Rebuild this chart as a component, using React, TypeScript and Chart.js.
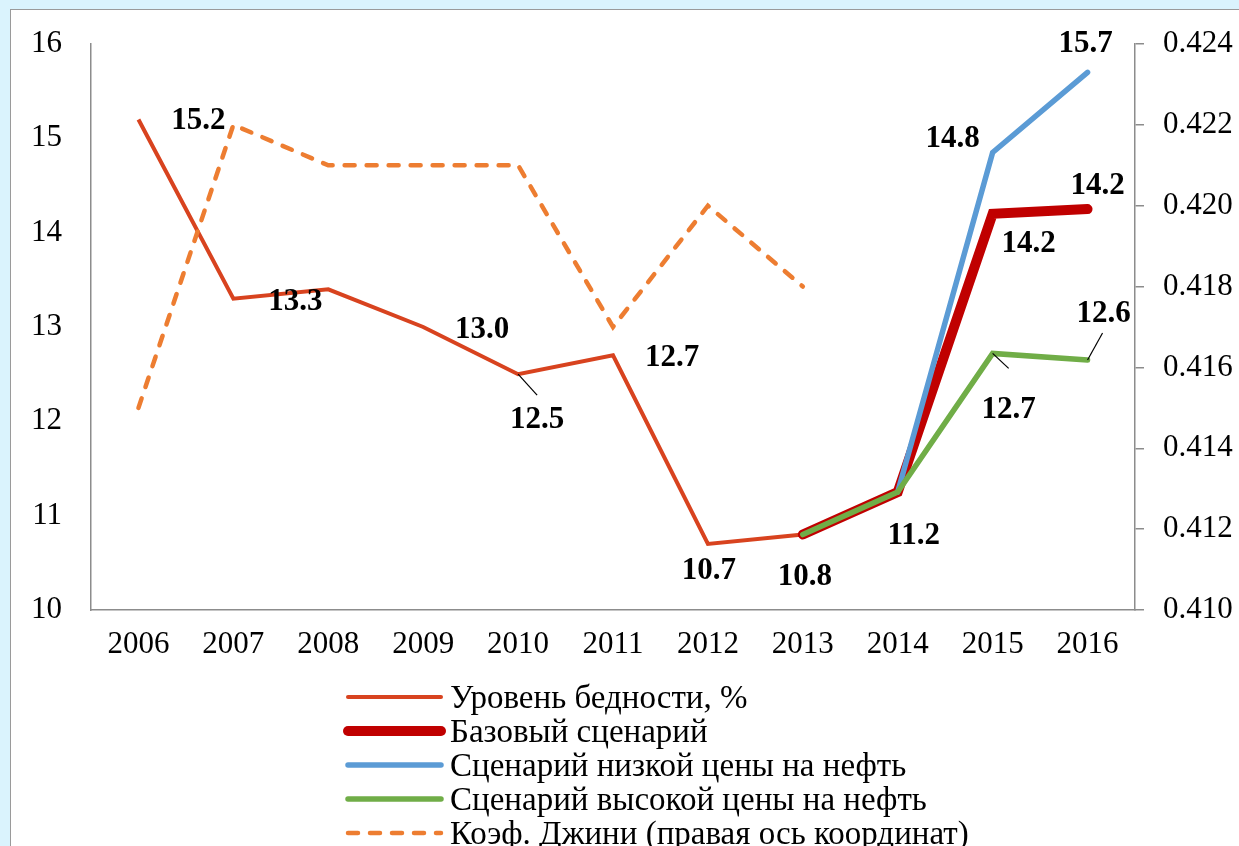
import React, { useEffect, useRef } from "react";
import { Chart, registerables } from "chart.js";

Chart.register(...registerables);

const years = ["2006", "2007", "2008", "2009", "2010", "2011", "2012", "2013", "2014", "2015", "2016"];
const poverty = [15.2, 13.3, 13.4, 13.0, 12.5, 12.7, 10.7, 10.8, 11.25, null, null];
const baseScenario = [null, null, null, null, null, null, null, 10.8, 11.25, 14.2, 14.25];
const lowOilScenario = [null, null, null, null, null, null, null, null, 11.25, 14.85, 15.7];
const highOilScenario = [null, null, null, null, null, null, null, 10.8, 11.25, 12.72, 12.65];
const gini = [0.415, 0.422, 0.421, 0.421, 0.421, 0.417, 0.42, 0.418, null, null, null];

const seriesNames = [
  "Уровень бедности, %",
  "Базовый сценарий",
  "Сценарий низкой цены на нефть",
  "Сценарий высокой цены на нефть",
  "Коэф. Джини (правая ось координат)",
];

const leftTicks = { min: 10, max: 16, step: 1 };
const rightTicks = { min: 0.41, max: 0.424, step: 0.002 };

// value label texts (as printed on the chart)
const labelTexts = ["15.2", "13.3", "13.0", "12.5", "12.7", "10.7", "10.8", "11.2", "14.8", "15.7", "14.2", "14.2", "12.6", "12.7"];
// dataset index / point index each label belongs to
const labelSeries = [0, 0, 0, 0, 0, 0, 0, 0, 2, 2, 1, 1, 3, 3];
const labelPoints = [0, 1, 3, 4, 5, 6, 7, 8, 9, 10, 10, 9, 10, 9];

// placement styling (offsets in px from the point)
const labelPlacement = [
  { dx: 60, dy: 0 },
  { dx: 62, dy: 1 },
  { dx: 59, dy: 1 },
  { dx: 19, dy: 44, lx: 19, ly: 21 },
  { dx: 59, dy: 1 },
  { dx: 1, dy: 25 },
  { dx: 2, dy: 40 },
  { dx: 16, dy: 42 },
  { dx: -40, dy: -15 },
  { dx: -2, dy: -30 },
  { dx: 10, dy: -25 },
  { dx: 36, dy: 28 },
  { dx: 16, dy: -48, lx: 15, ly: -27 },
  { dx: 16, dy: 55, lx: 16, ly: 15 },
];

const SERIF = '"Liberation Serif", "Times New Roman", serif';
const colors = ["#D8431F", "#C00000", "#5B9BD5", "#70AD47", "#ED7D31"];
const widths = [4, 10, 5.5, 5.5, 4.5];
const AXIS = "#8c8c8c";

const labelPlugin = {
  id: "valueLabels",
  afterDatasetsDraw(chart: any) {
    const ctx = chart.ctx;
    ctx.save();
    ctx.font = `bold 31px ${SERIF}`;
    ctx.fillStyle = "#000";
    ctx.textAlign = "center";
    ctx.textBaseline = "middle";
    labelTexts.forEach((t, k) => {
      const el = chart.getDatasetMeta(labelSeries[k]).data[labelPoints[k]];
      if (!el) return;
      const p = labelPlacement[k] as any;
      if (p.lx !== undefined) {
        ctx.strokeStyle = "#000";
        ctx.lineWidth = 1.2;
        ctx.beginPath();
        ctx.moveTo(el.x, el.y);
        ctx.lineTo(el.x + p.lx, el.y + p.ly);
        ctx.stroke();
      }
      ctx.fillText(t, el.x + p.dx, el.y + p.dy + 2);
    });
    ctx.restore();
  },
};

const legendPlugin = {
  id: "customLegend",
  afterDraw(chart: any) {
    const ctx = chart.ctx;
    ctx.save();
    const rows = [697, 731, 765, 799, 833];
    seriesNames.forEach((name, i) => {
      const y = rows[i];
      ctx.strokeStyle = colors[i];
      ctx.lineWidth = widths[i];
      ctx.lineCap = "round";
      ctx.setLineDash(i === 4 ? [10, 12] : []);
      ctx.beginPath();
      ctx.moveTo(348, y);
      ctx.lineTo(441, y);
      ctx.stroke();
      ctx.setLineDash([]);
      ctx.fillStyle = "#000";
      ctx.font = `33px ${SERIF}`;
      ctx.textAlign = "left";
      ctx.textBaseline = "middle";
      ctx.fillText(name, 450, y + 2);
    });
    ctx.restore();
  },
};

const noVertPadding = (s: any, w: number) => {
  s.width = w;
  s.paddingTop = 0;
  s.paddingBottom = 0;
};

export default function App() {
  const ref = useRef<HTMLCanvasElement>(null);
  useEffect(() => {
    if (!ref.current) return;
    const tickFont = { family: SERIF, size: 31 };
    const chart = new Chart(ref.current, {
      type: "line",
      data: {
        labels: years,
        datasets: [
          { label: seriesNames[0], data: poverty, borderColor: colors[0], borderWidth: widths[0], pointRadius: 0, yAxisID: "y", order: 4 },
          { label: seriesNames[1], data: baseScenario, borderColor: colors[1], borderWidth: widths[1], pointRadius: 0, borderCapStyle: "round", yAxisID: "y", order: 3 },
          { label: seriesNames[2], data: lowOilScenario, borderColor: colors[2], borderWidth: widths[2], pointRadius: 0, borderCapStyle: "round", yAxisID: "y", order: 2 },
          { label: seriesNames[3], data: highOilScenario, borderColor: colors[3], borderWidth: widths[3], pointRadius: 0, borderCapStyle: "round", yAxisID: "y", order: 1 },
          { label: seriesNames[4], data: gini, borderColor: colors[4], borderWidth: widths[4], pointRadius: 0, borderDash: [10, 12], borderCapStyle: "round", yAxisID: "y1", order: 0 },
        ] as any,
      },
      options: {
        animation: false,
        responsive: false,
        maintainAspectRatio: false,
        layout: { padding: { top: 44, left: 0, right: 0, bottom: 0 } },
        plugins: { legend: { display: false }, tooltip: { enabled: false } },
        scales: {
          x: {
            offset: true,
            grid: { display: false, drawTicks: false },
            border: { display: true, color: AXIS, width: 1.5 },
            ticks: { font: tickFont, color: "#000", padding: 16, maxRotation: 0, autoSkip: false },
            afterFit: (s: any) => { s.height = 236; s.paddingLeft = 0; s.paddingRight = 0; },
          },
          y: {
            position: "left",
            min: leftTicks.min,
            max: leftTicks.max,
            ticks: { stepSize: leftTicks.step, font: tickFont, color: "#000", padding: 29 },
            grid: { display: false, drawTicks: false },
            border: { display: true, color: AXIS, width: 1.5 },
            afterFit: (s: any) => noVertPadding(s, 91),
          },
          y1: {
            position: "right",
            min: rightTicks.min,
            max: rightTicks.max,
            ticks: {
              stepSize: rightTicks.step,
              font: tickFont,
              color: "#000",
              padding: 19,
              callback: (v: any) => Number(v).toFixed(3),
            },
            grid: { display: true, drawOnChartArea: false, drawTicks: true, tickLength: 9, color: AXIS, lineWidth: 1.5 },
            border: { display: true, color: AXIS, width: 1.5 },
            afterFit: (s: any) => noVertPadding(s, 104),
          },
        },
      } as any,
      plugins: [labelPlugin, legendPlugin],
    });
    return () => chart.destroy();
  }, []);

  return (
    <div style={{ position: "fixed", left: 0, top: 0, width: 1239, height: 846, background: "#DAF3FD", overflow: "hidden" }}>
      <div style={{ position: "absolute", left: 10, top: 9, width: 1260, height: 860, background: "#fff", border: "1.5px solid #9a9a9a" }} />
      <canvas ref={ref} width={1239} height={846} style={{ position: "absolute", left: 0, top: 0, width: 1239, height: 846 }} />
    </div>
  );
}
